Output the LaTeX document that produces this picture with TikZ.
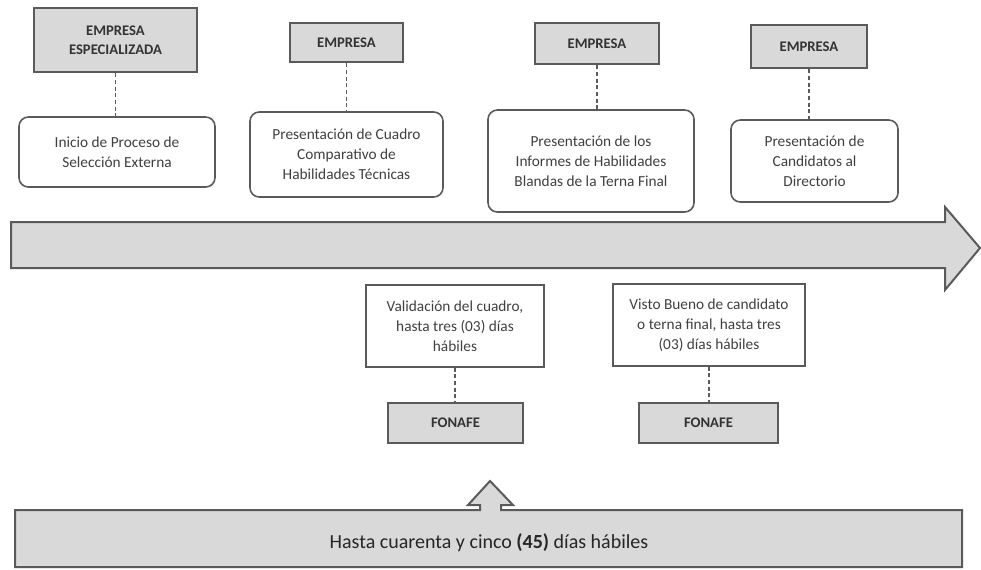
\documentclass[tikz,border=0pt]{standalone}
\usepackage{fontspec}
\setmainfont{Carlito}
\usetikzlibrary{positioning,calc}
\definecolor{boxgray}{HTML}{D9D9D9}
\definecolor{edgegray}{HTML}{5A5A5A}
\tikzset{
  actorbox/.style={draw=edgegray, fill=boxgray, line width=1.8pt, align=center,
    inner sep=1pt, font=\fontsize{11}{14}\selectfont\bfseries, text=black!80},
  stepbox/.style={draw=edgegray, fill=white, rounded corners=7pt, line width=1.2pt,
    align=center, inner sep=1pt, font=\fontsize{11.5}{15}\selectfont, text=black!75},
  checkbox/.style={draw=edgegray, fill=white, line width=1.2pt,
    align=center, inner sep=1pt, font=\fontsize{11.5}{15}\selectfont, text=black!75},
  linkdash/.style={dashed, dash pattern=on 3pt off 2pt, line width=1.1pt, draw=edgegray},
  bandshape/.style={draw=edgegray, fill=boxgray, line width=1.5pt, line join=miter},
}

\begin{document}
\begin{tikzpicture}[x=0.75pt, y=-0.75pt]
\useasboundingbox (0,0) rectangle (981,569);
% timeline arrow
\draw[bandshape] (11,222) -- (945,222) -- (945,207) -- (980,248) -- (945,290)
  -- (945,268) -- (11,268) -- cycle;
% upper row: company and its deliverables
\node[actorbox, minimum width=122.3pt, minimum height=48pt] (emp1) at (115.5,40) {EMPRESA\\ESPECIALIZADA};
\node[actorbox, minimum width=84.8pt, minimum height=29.3pt] (emp2) at (346.5,42.5) {EMPRESA};
\node[actorbox, minimum width=93pt, minimum height=30.8pt] (emp3) at (597,43.5) {EMPRESA};
\node[actorbox, minimum width=87pt, minimum height=32.3pt] (emp4) at (809,46.5) {EMPRESA};
\node[stepbox, minimum width=147pt, minimum height=52.5pt] (paso1) at (117,152)
  {Inicio de Proceso de\\Selección Externa};
\node[stepbox, minimum width=144.8pt, minimum height=63.8pt] (paso2) at (346.5,154.5)
  {Presentación de Cuadro\\Comparativo de\\Habilidades Técnicas};
\node[stepbox, minimum width=154.5pt, minimum height=76.5pt] (paso3) at (591,161)
  {Presentación de los\\Informes de Habilidades\\Blandas de la Terna Final};
\node[stepbox, minimum width=125.3pt, minimum height=61.5pt] (paso4) at (814.5,161)
  {Presentación de\\Candidatos al\\Directorio};
\draw[linkdash] (emp1.south) -- (emp1.south |- paso1.north);
\draw[linkdash] (emp2.south) -- (emp2.south |- paso2.north);
\draw[linkdash] (emp3.south) -- (emp3.south |- paso3.north);
\draw[linkdash] (emp4.south) -- (emp4.south |- paso4.north);
% lower row: FONAFE approvals
\node[checkbox, minimum width=133.5pt, minimum height=61.5pt] (valid) at (455,326)
  {Validación del cuadro,\\hasta tres (03) días\\hábiles};
\node[checkbox, minimum width=144pt, minimum height=61.5pt] (visto) at (709,325)
  {Visto Bueno de candidato\\o terna final, hasta tres\\(03) días hábiles};
\node[actorbox, minimum width=101.3pt, minimum height=30pt] (fon1) at (455.5,423) {FONAFE};
\node[actorbox, minimum width=104.3pt, minimum height=30pt] (fon2) at (708.5,423) {FONAFE};
\draw[linkdash] (valid.south) -- (valid.south |- fon1.north);
\draw[linkdash] (visto.south) -- (visto.south |- fon2.north);
% total time band with notch arrow
\draw[bandshape] (15,510) -- (480,510) -- (480,505) -- (468,505) -- (490,481)
  -- (513,505) -- (501,505) -- (501,510) -- (962,510) -- (962,567) -- (15,567) -- cycle;
\node[font=\fontsize{15}{17}\selectfont, text=black!85] (plazo) at (489,543)
  {Hasta cuarenta y cinco \textbf{(45)} días hábiles};
\end{tikzpicture}
\end{document}
